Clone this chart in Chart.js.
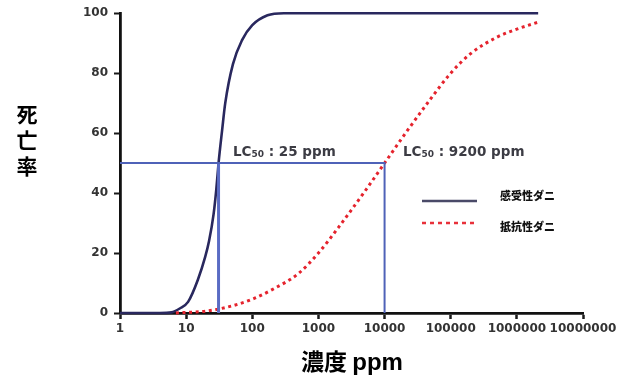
<!DOCTYPE html>
<html>
<head>
<meta charset="utf-8">
<script src="https://cdn.jsdelivr.net/npm/chart.js@4"></script>
<style>
  html, body { margin: 0; padding: 0; background: #fff; }
  #wrap { width: 627px; height: 380px; }
</style>
</head>
<body>
<div id="wrap"><canvas id="chart" width="627" height="380"></canvas></div>
<script>
// 濃度 ticks (log)
const decades = [1, 10, 100, 1000, 10000, 100000, 1000000, 10000000];
const yTicks = [0, 20, 40, 60, 80, 100];

// 感受性ダニ
const susX = [1, 2, 4, 6, 8, 10.7, 15, 19.4, 22.2, 26, 28.5, 30.9, 35, 39, 51, 70, 100, 170, 300, 1000, 10000, 100000, 1000000, 2100000];
const susY = [0, 0, 0, 0.2, 1.5, 3.7, 11, 18.7, 24, 33, 41, 50, 61, 70, 83, 91, 96, 99.3, 100, 100, 100, 100, 100, 100];

// 抵抗性ダニ
const resX = [7, 10, 20, 50, 100, 200, 500, 1000, 2000, 5000, 10000, 20000, 50000, 100000, 200000, 500000, 1000000, 2100000];
const resY = [0, 0.2, 0.6, 2.4, 4.6, 7.8, 13.2, 20, 28.5, 40.5, 50, 59.5, 71.5, 80, 86.5, 92, 94.7, 97];

// LC50 guide lines
const lcLevel = 50;
const lcX = [30.9, 10000];
const lcLabels = ['25 ppm', '9200 ppm'];
const seriesNames = ['感受性ダニ', '抵抗性ダニ'];

function pts(xs, ys) {
    return xs.map((x, i) => ({x: x, y: ys[i]}));
}

const cjk = '"Noto Sans CJK JP", sans-serif';
const tickFont = {family: '"DejaVu Sans", sans-serif', size: 12, weight: 'bold'};

const textPlugin = {
    id: 'texts',
    afterDraw(chart) {
        const ctx = chart.ctx;
        const ys = chart.scales.y;
        ctx.save();
        // y title, stacked
        ctx.fillStyle = '#000';
        ctx.font = 'bold 21px ' + cjk;
        ctx.textAlign = 'center';
        ctx.textBaseline = 'middle';
        ['死', '亡', '率'].forEach((c, i) => ctx.fillText(c, 27, 114 + i * 26));
        // x title
        ctx.textBaseline = 'alphabetic';
        ctx.textAlign = 'left';
        ctx.font = 'bold 23px ' + cjk;
        const w1 = ctx.measureText('濃度 ').width;
        ctx.font = 'bold 24px "Liberation Sans", sans-serif';
        const w2 = ctx.measureText('ppm').width;
        const x0 = 352 - (w1 + w2) / 2;
        ctx.font = 'bold 23px ' + cjk;
        ctx.fillText('濃度 ', x0, 370);
        ctx.font = 'bold 24px "Liberation Sans", sans-serif';
        ctx.fillText('ppm', x0 + w1, 370);

        // LC50 labels
        ctx.fillStyle = '#3c3c44';
        const by = ys.getPixelForValue(lcLevel) - 7;
        const starts = [233, 403];
        lcLabels.forEach((t, i) => {
            let x = starts[i];
            ctx.font = 'bold 13.5px "DejaVu Sans", sans-serif';
            ctx.fillText('LC', x, by);
            x += ctx.measureText('LC').width;
            ctx.font = 'bold 9px "DejaVu Sans", sans-serif';
            ctx.fillText('50', x, by + 1);
            x += ctx.measureText('50').width;
            ctx.font = 'bold 13.5px "DejaVu Sans", sans-serif';
            ctx.fillText(' : ' + t, x, by);
        });

        // legend
        ctx.lineWidth = 2.5;
        ctx.strokeStyle = '#4a4a68';
        ctx.beginPath(); ctx.moveTo(422, 201); ctx.lineTo(477, 201); ctx.stroke();
        ctx.strokeStyle = '#e8303a';
        ctx.setLineDash([4, 4]);
        ctx.beginPath(); ctx.moveTo(422, 223); ctx.lineTo(477, 223); ctx.stroke();
        ctx.setLineDash([]);
        ctx.fillStyle = '#111';
        ctx.font = '900 11px ' + cjk;
        ctx.textBaseline = 'middle';
        ctx.fillText(seriesNames[0], 500, 196);
        ctx.fillText(seriesNames[1], 500, 227);
        ctx.restore();
    }
};

new Chart(document.getElementById('chart'), {
    type: 'line',
    data: {
        datasets: [
            {
                label: 'LC50 h',
                data: [{x: 1, y: lcLevel}, {x: lcX[1], y: lcLevel}, {x: lcX[1], y: 0}],
                borderColor: '#4f62b8',
                borderWidth: 2,
                pointRadius: 0,
                tension: 0
            },
            {
                label: 'LC50 v',
                data: [{x: lcX[0], y: lcLevel}, {x: lcX[0], y: 0}],
                borderColor: '#5a6cc4',
                borderWidth: 3,
                pointRadius: 0,
                tension: 0
            },
            {
                label: seriesNames[1],
                data: pts(resX, resY),
                borderColor: '#e5232d',
                borderWidth: 3,
                borderDash: [3, 3.6],
                pointRadius: 0,
                cubicInterpolationMode: 'monotone',
                clip: 6
            },
            {
                label: seriesNames[0],
                data: pts(susX, susY),
                borderColor: '#29285e',
                borderWidth: 2.6,
                pointRadius: 0,
                cubicInterpolationMode: 'monotone',
                clip: 6
            }
        ]
    },
    options: {
        responsive: false,
        animation: false,
        layout: {padding: {left: 0, right: 44, top: 13, bottom: 0}},
        plugins: {
            legend: {display: false},
            tooltip: {enabled: false}
        },
        scales: {
            x: {
                type: 'logarithmic',
                min: 1,
                max: 10000000,
                afterBuildTicks: s => { s.ticks = decades.map(v => ({value: v})); },
                afterFit: s => { s.height = 67; },
                ticks: {
                    callback: v => String(v),
                    font: tickFont,
                    color: '#333',
                    padding: 3,
                    maxRotation: 0,
                    autoSkip: false
                },
                grid: {drawOnChartArea: false, drawTicks: true, tickLength: 6, tickColor: '#1a1a1a', tickWidth: 2.5},
                border: {color: '#111', width: 2.8}
            },
            y: {
                min: 0,
                max: 100,
                afterBuildTicks: s => { s.ticks = yTicks.map(v => ({value: v})); },
                afterFit: s => { s.width = 120; },
                ticks: {
                    font: tickFont,
                    color: '#333',
                    padding: 6
                },
                grid: {drawOnChartArea: false, drawTicks: true, tickLength: 6, tickColor: '#1a1a1a', tickWidth: 2},
                border: {color: '#111', width: 2.8}
            }
        }
    },
    plugins: [textPlugin]
});
</script>
</body>
</html>
